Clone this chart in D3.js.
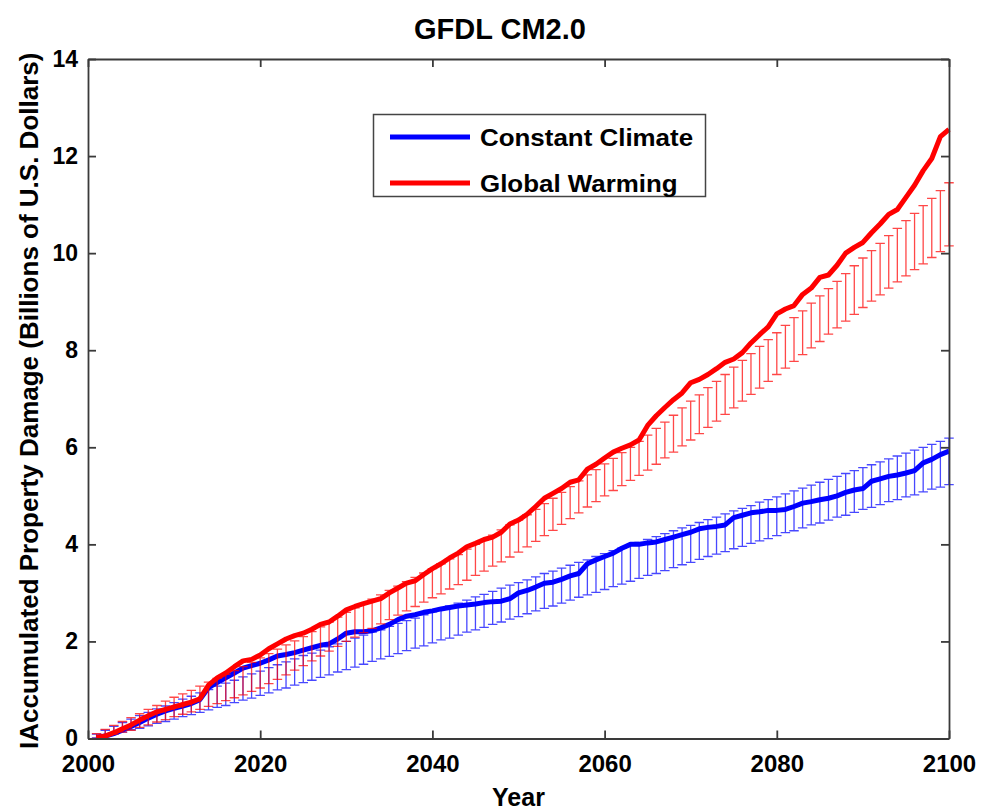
<!DOCTYPE html>
<html>
<head>
<meta charset="utf-8">
<script src="https://cdn.jsdelivr.net/npm/d3@7/dist/d3.min.js"></script>
<style>
  html, body { margin: 0; padding: 0; background: #fff; }
  svg text { font-family: "Liberation Sans", Arial, Helvetica, sans-serif; font-weight: bold; fill: #000; }
</style>
</head>
<body>
<svg id="chart" width="985" height="812"></svg>
<script>
// ---------------- data ----------------
const title = "GFDL CM2.0";
const xLabel = "Year";
const yLabel = "IAccumulated Property Damage (Billions of U.S. Dollars)";
const seriesNames = ["Constant Climate", "Global Warming"];
const xTicks = [2000, 2020, 2040, 2060, 2080, 2100];
const yTicks = [0, 2, 4, 6, 8, 10, 12, 14];

const years = [
  2001,2002,2003,2004,2005,2006,2007,2008,2009,2010,
  2011,2012,2013,2014,2015,2016,2017,2018,2019,2020,
  2021,2022,2023,2024,2025,2026,2027,2028,2029,2030,
  2031,2032,2033,2034,2035,2036,2037,2038,2039,2040,
  2041,2042,2043,2044,2045,2046,2047,2048,2049,2050,
  2051,2052,2053,2054,2055,2056,2057,2058,2059,2060,
  2061,2062,2063,2064,2065,2066,2067,2068,2069,2070,
  2071,2072,2073,2074,2075,2076,2077,2078,2079,2080,
  2081,2082,2083,2084,2085,2086,2087,2088,2089,2090,
  2091,2092,2093,2094,2095,2096,2097,2098,2099,2100
];

// thick lines
const constantLine = [
  0.02,0.05,0.10,0.17,0.25,0.33,0.42,0.50,0.57,0.62,
  0.67,0.72,0.80,1.05,1.15,1.25,1.35,1.45,1.50,1.55,
  1.62,1.70,1.73,1.77,1.82,1.87,1.92,1.95,2.05,2.17,
  2.20,2.20,2.22,2.28,2.35,2.45,2.52,2.55,2.60,2.63,
  2.67,2.70,2.73,2.75,2.77,2.80,2.82,2.83,2.88,3.00,
  3.05,3.12,3.20,3.22,3.28,3.35,3.40,3.60,3.68,3.75,
  3.82,3.92,4.00,4.00,4.03,4.05,4.10,4.15,4.20,4.25,
  4.32,4.35,4.37,4.40,4.55,4.60,4.65,4.67,4.70,4.70,
  4.72,4.78,4.85,4.88,4.92,4.95,5.00,5.07,5.12,5.15,
  5.30,5.35,5.40,5.43,5.47,5.52,5.68,5.75,5.85,5.92
];
const warmingLine = [
  0.02,0.05,0.12,0.20,0.28,0.38,0.47,0.55,0.60,0.65,
  0.70,0.75,0.82,1.10,1.25,1.35,1.48,1.60,1.63,1.72,
  1.85,1.95,2.05,2.12,2.17,2.25,2.35,2.40,2.52,2.65,
  2.72,2.78,2.83,2.88,3.00,3.10,3.20,3.25,3.38,3.50,
  3.60,3.72,3.82,3.95,4.02,4.10,4.15,4.25,4.42,4.50,
  4.62,4.78,4.95,5.05,5.15,5.28,5.33,5.55,5.65,5.78,
  5.90,5.98,6.05,6.15,6.45,6.65,6.82,6.98,7.12,7.33,
  7.40,7.50,7.62,7.75,7.82,7.95,8.15,8.32,8.48,8.75,
  8.85,8.92,9.15,9.28,9.50,9.55,9.75,10.00,10.12,10.22,
  10.42,10.60,10.80,10.90,11.15,11.40,11.70,11.95,12.40,12.55
];

// error bars: ensemble mean and half-width
const constantMean = [
  0.05,0.11,0.17,0.23,0.29,0.34,0.40,0.46,0.51,0.57,
  0.63,0.68,0.74,0.80,0.86,0.91,0.97,1.03,1.08,1.14,
  1.20,1.26,1.31,1.37,1.43,1.48,1.54,1.60,1.66,1.71,
  1.77,1.83,1.89,1.94,2.00,2.06,2.12,2.17,2.23,2.29,
  2.35,2.40,2.46,2.52,2.58,2.63,2.69,2.75,2.81,2.86,
  2.92,2.98,3.04,3.09,3.15,3.21,3.27,3.32,3.38,3.44,
  3.50,3.55,3.61,3.67,3.73,3.78,3.84,3.90,3.96,4.01,
  4.07,4.13,4.18,4.24,4.30,4.35,4.41,4.47,4.52,4.58,
  4.64,4.69,4.75,4.81,4.86,4.92,4.98,5.03,5.09,5.15,
  5.20,5.26,5.32,5.37,5.43,5.48,5.54,5.60,5.65,5.71
];
const constantErr = [
  0.04,0.06,0.08,0.10,0.11,0.13,0.14,0.15,0.16,0.17,
  0.18,0.19,0.20,0.21,0.22,0.23,0.23,0.24,0.25,0.25,
  0.26,0.26,0.27,0.27,0.28,0.28,0.28,0.29,0.29,0.29,
  0.30,0.30,0.30,0.30,0.31,0.31,0.31,0.31,0.32,0.32,
  0.32,0.33,0.33,0.33,0.34,0.34,0.34,0.35,0.35,0.35,
  0.35,0.35,0.36,0.36,0.36,0.36,0.36,0.36,0.37,0.37,
  0.37,0.37,0.37,0.37,0.37,0.38,0.38,0.38,0.38,0.38,
  0.38,0.38,0.38,0.39,0.39,0.39,0.39,0.40,0.40,0.40,
  0.40,0.41,0.41,0.41,0.42,0.42,0.42,0.43,0.43,0.43,
  0.44,0.44,0.44,0.45,0.45,0.46,0.46,0.46,0.47,0.48
];
const warmingMean = [
  0.05,0.12,0.18,0.24,0.30,0.37,0.44,0.51,0.58,0.65,
  0.71,0.77,0.84,0.91,0.98,1.05,1.12,1.19,1.27,1.35,
  1.44,1.53,1.62,1.71,1.80,1.90,2.00,2.10,2.20,2.30,
  2.39,2.48,2.57,2.66,2.75,2.84,2.93,3.02,3.11,3.20,
  3.29,3.39,3.48,3.58,3.68,3.77,3.87,3.97,4.07,4.17,
  4.28,4.39,4.51,4.62,4.74,4.86,4.98,5.10,5.21,5.33,
  5.44,5.55,5.66,5.77,5.89,6.02,6.15,6.28,6.42,6.55,
  6.68,6.82,6.95,7.09,7.23,7.37,7.51,7.65,7.79,7.93,
  8.07,8.22,8.36,8.51,8.65,8.80,8.94,9.09,9.24,9.39,
  9.53,9.67,9.82,9.96,10.10,10.24,10.38,10.52,10.66,10.80
];
const warmingErr = [
  0.05,0.07,0.09,0.11,0.13,0.14,0.16,0.17,0.19,0.20,
  0.21,0.22,0.24,0.25,0.26,0.27,0.28,0.29,0.30,0.31,
  0.31,0.31,0.31,0.30,0.30,0.30,0.30,0.30,0.30,0.30,
  0.30,0.30,0.30,0.30,0.30,0.30,0.30,0.30,0.30,0.30,
  0.31,0.31,0.31,0.32,0.32,0.32,0.32,0.33,0.33,0.33,
  0.33,0.33,0.33,0.33,0.33,0.33,0.33,0.33,0.33,0.33,
  0.33,0.34,0.34,0.35,0.36,0.37,0.37,0.38,0.39,0.40,
  0.40,0.41,0.41,0.41,0.42,0.42,0.42,0.43,0.43,0.43,
  0.44,0.45,0.45,0.46,0.47,0.47,0.48,0.49,0.50,0.51,
  0.52,0.53,0.54,0.55,0.57,0.58,0.60,0.61,0.63,0.65
];

const colors = ["#0000ff", "#ff0000"];

// ---------------- chart ----------------
const svg = d3.select("#chart");
svg.append("rect").attr("width", 985).attr("height", 812).attr("fill", "#fff");

const mLeft = 88, mRight = 949, mTop = 59, mBottom = 738.5;
const x = d3.scaleLinear().domain([2000, 2100]).range([mLeft, mRight]);
const y = d3.scaleLinear().domain([0, 14]).range([mBottom, mTop]);

const plot = svg.append("g");

function drawErrorBars(mean, err, color) {
  const g = plot.append("g")
    .attr("stroke", color)
    .attr("stroke-width", 1.3)
    .attr("stroke-opacity", 0.72)
    .attr("fill", "none");
  const capHalf = (x(2001) - x(2000)) * 0.55;
  const data = years.map((yr, i) => ({ yr, lo: mean[i] - err[i], hi: mean[i] + err[i] }));
  g.selectAll("path").data(data).join("path")
    .attr("d", d => {
      const cx = x(d.yr), y1 = y(d.lo), y2 = y(d.hi);
      return `M${cx},${y1}V${y2}M${cx - capHalf},${y2}H${cx + capHalf}M${cx - capHalf},${y1}H${cx + capHalf}`;
    });
}

function drawLine(vals, color) {
  const line = d3.line().x((d, i) => x(years[i])).y(d => y(d));
  plot.append("path")
    .datum(vals)
    .attr("d", line)
    .attr("fill", "none")
    .attr("stroke", color)
    .attr("stroke-width", 5)
    .attr("stroke-linejoin", "round");
}

drawErrorBars(constantMean, constantErr, colors[0]);
drawLine(constantLine, colors[0]);
drawErrorBars(warmingMean, warmingErr, colors[1]);
drawLine(warmingLine, colors[1]);

// axes (box with inward ticks on all four sides)
const axisColor = "#3a3a3a";
const tickLen = 8;
function styleAxis(g, size) {
  g.select(".domain").attr("stroke", axisColor).attr("stroke-width", 1.8);
  g.selectAll(".tick line").attr("stroke", axisColor).attr("stroke-width", 1.8);
  g.selectAll(".tick text").attr("font-size", size).attr("font-family", "Liberation Sans, Arial, sans-serif").attr("font-weight", "bold").attr("fill", "#000");
}

svg.append("g").attr("transform", `translate(0,${mBottom})`)
  .call(d3.axisBottom(x).tickValues(xTicks).tickFormat(d3.format("d")).tickSizeInner(-tickLen).tickSizeOuter(0).tickPadding(16))
  .call(styleAxis, 24);
svg.append("g").attr("transform", `translate(0,${mTop})`)
  .call(d3.axisTop(x).tickValues(xTicks).tickFormat("").tickSizeInner(-tickLen).tickSizeOuter(0))
  .call(styleAxis, 24);
svg.append("g").attr("transform", `translate(${mLeft},0)`)
  .call(d3.axisLeft(y).tickValues(yTicks).tickFormat(d3.format("d")).tickSizeInner(-tickLen).tickSizeOuter(0).tickPadding(10))
  .call(styleAxis, 23);
svg.append("g").attr("transform", `translate(${mRight},0)`)
  .call(d3.axisRight(y).tickValues(yTicks).tickFormat("").tickSizeInner(-tickLen).tickSizeOuter(0))
  .call(styleAxis, 23);

// title and axis labels
svg.append("text")
  .attr("x", 500).attr("y", 39)
  .attr("text-anchor", "middle").attr("font-size", 29)
  .text(title);
svg.append("text")
  .attr("x", (mLeft + mRight) / 2).attr("y", 806)
  .attr("text-anchor", "middle").attr("font-size", 25)
  .text(xLabel);
svg.append("text")
  .attr("transform", `translate(38,${(mTop + mBottom) / 2 + 2}) rotate(-90)`)
  .attr("text-anchor", "middle").attr("font-size", 26)
  .text(yLabel);

// legend
const legend = svg.append("g");
legend.append("rect")
  .attr("x", 373.5).attr("y", 114.5).attr("width", 332).attr("height", 82)
  .attr("fill", "#fff").attr("stroke", "#444").attr("stroke-width", 1.5);
seriesNames.forEach((name, i) => {
  const ly = 137 + i * 46;
  legend.append("line")
    .attr("x1", 390).attr("x2", 470).attr("y1", ly).attr("y2", ly)
    .attr("stroke", colors[i]).attr("stroke-width", 5);
  legend.append("text")
    .attr("transform", `translate(480,${ly}) scale(1.08,1)`)
    .attr("dy", "0.36em")
    .attr("font-size", 24)
    .text(name);
});
</script>
</body>
</html>
